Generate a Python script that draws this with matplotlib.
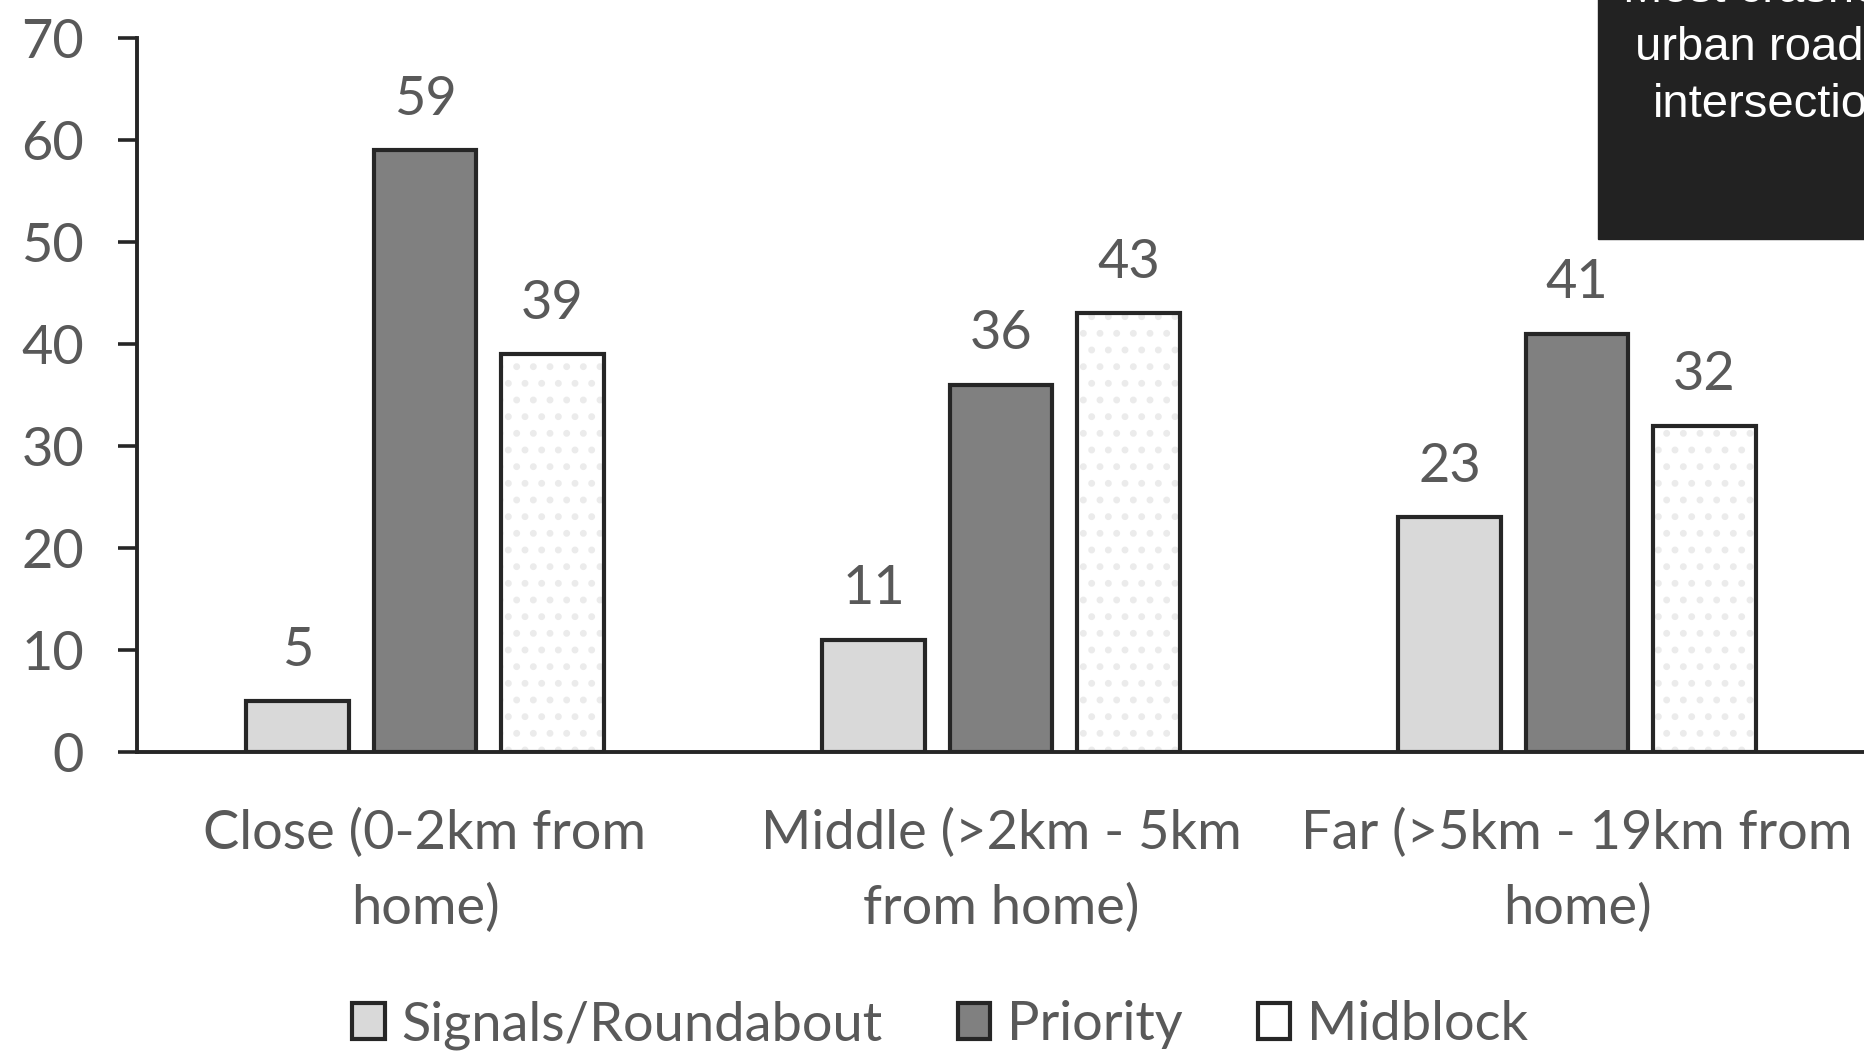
import matplotlib.pyplot as plt
import numpy as np

categories = ["Close (0-2km from\nhome)",
              "Middle (>2km - 5km\nfrom home)",
              "Far (>5km - 19km from\nhome)"]
series = ["Signals/Roundabout", "Priority", "Midblock"]
signals = [5, 11, 23]
priority = [59, 36, 41]
midblock = [39, 43, 32]
yticks = [0, 10, 20, 30, 40, 50, 60, 70]
box_lines = ["Most crashes at", "urban road", "intersections"]


def main():
    plt.rcParams["font.family"] = ["Lato", "DejaVu Sans"]
    plt.rcParams["hatch.linewidth"] = 2.5
    txt = "#595959"
    edge = "#262626"
    fs = 39

    fig = plt.figure(figsize=(18.65, 10.54), dpi=100)
    ax = fig.add_axes([137 / 1865, 1 - 752 / 1054, 1 - 137 / 1865,
                       (752 - 38) / 1054])

    x = np.arange(len(categories))
    w = 0.178
    off = 0.221
    values = [signals, priority, midblock]
    fills = ["#d9d9d9", "#808080", "white"]
    for i, (vals, fc) in enumerate(zip(values, fills)):
        pos = x + (i - 1) * off
        if i == 2:
            # faint dotted fill, outline drawn on top
            ax.bar(pos, vals, w, color="white", edgecolor="#ebebeb",
                   hatch=".", linewidth=0, zorder=2)
            bars = ax.bar(pos, vals, w, fill=False, edgecolor=edge,
                          linewidth=3, zorder=3, label=series[i])
        else:
            bars = ax.bar(pos, vals, w, color=fc, edgecolor=edge,
                          linewidth=3, zorder=3, label=series[i])
        for b, v in zip(bars, vals):
            ax.annotate(str(v), (b.get_x() + b.get_width() / 2, v),
                        xytext=(0, 19), textcoords="offset points",
                        ha="center", va="bottom", fontsize=fs, color=txt)

    ax.set_xlim(-0.5, 2.5)
    ax.set_ylim(0, 70)
    ax.set_yticks(yticks)
    ax.set_yticklabels([str(t) for t in yticks], fontsize=fs, color=txt)
    ax.set_xticks(x)
    ax.set_xticklabels(categories, fontsize=fs, color=txt, linespacing=1.6)
    ax.tick_params(axis="x", length=0, pad=40)
    ax.tick_params(axis="y", length=14, width=2.6, color=edge, pad=24)
    for s in ["top", "right"]:
        ax.spines[s].set_visible(False)
    ax.spines["left"].set_linewidth(2.8)
    ax.spines["left"].set_color(edge)
    ax.spines["bottom"].set_linewidth(2.8)
    ax.spines["bottom"].set_color(edge)

    leg = fig.legend(loc="center", bbox_to_anchor=(0.504, 1 - 1025 / 1054),
                     ncol=3, frameon=False, fontsize=fs, handlelength=0.6,
                     handleheight=0.65, handletextpad=0.3, columnspacing=1.4)
    for t in leg.get_texts():
        t.set_color(txt)

    # dark annotation box in the top-right corner, cut by the figure edge
    fig.patches.append(plt.Rectangle((1598 / 1865, 1 - 239 / 1054),
                                     1, 1, transform=fig.transFigure,
                                     color="#222222", zorder=5))
    starts = [(1623, 2), (1635, 60), (1653, 117)]
    for line, (px, py) in zip(box_lines, starts):
        fig.text(px / 1865, 1 - py / 1054, line, ha="left",
                 va="baseline", fontsize=34, color="white",
                 family="Liberation Sans", zorder=6)

    fig.savefig("out.png", dpi=100)


if __name__ == "__main__":
    main()
